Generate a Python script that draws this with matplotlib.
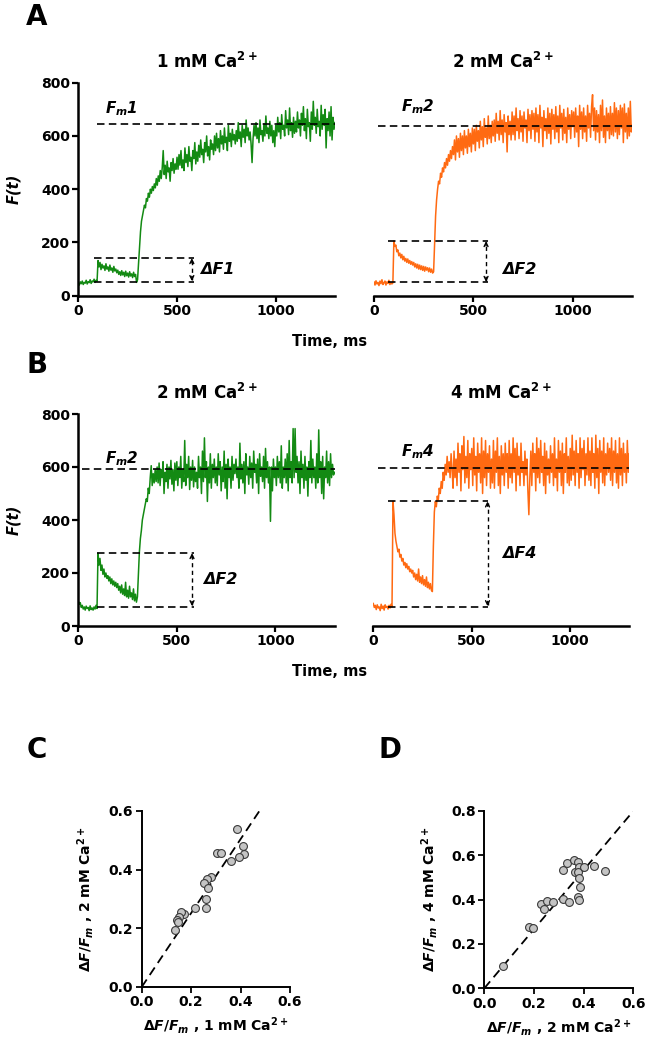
import numpy as np
import matplotlib
matplotlib.use('Agg')
import matplotlib.pyplot as plt

plt.rcParams['font.family'] = ['DejaVu Sans']
plt.rcParams['font.weight'] = 'bold'
plt.rcParams['mathtext.fontset'] = 'custom'
plt.rcParams['mathtext.rm'] = 'DejaVu Sans:bold'
plt.rcParams['mathtext.bf'] = 'DejaVu Sans:bold'
plt.rcParams['mathtext.it'] = 'DejaVu Sans:bold:italic'
plt.rcParams['mathtext.default'] = 'it'

# ---------------- data ----------------
time_step_ms = 5
trace_A1 = [48, 40, 52, 45, 55, 42, 50, 47, 58, 44, 53, 49, 60, 46, 55, 52, 62, 50, 58, 54,
            132, 108, 125, 98, 118, 104, 112, 95, 120, 100, 108, 92, 115, 96, 104, 88, 110, 93, 100, 86,
            96, 80, 90, 76, 94, 78, 88, 72, 92, 75, 85, 70, 90, 74, 82, 68, 88, 72, 80, 50,
            60, 120, 180, 240, 280, 300, 320, 340, 330, 365, 355, 385, 370, 400, 385, 410, 395, 420, 405, 440,
            415, 450, 430, 470, 440, 480, 545, 455, 490, 440, 505, 465, 480, 430, 500, 470, 515, 460, 495, 475,
            520, 475, 530, 490, 545, 480, 510, 470, 555, 500, 530, 485, 560, 505, 520, 470, 545, 515, 575, 495,
            540, 505, 565, 520, 585, 530, 550, 500, 575, 540, 600, 525, 560, 510, 585, 550, 570, 530, 600, 545,
            610, 555, 590, 540, 620, 570, 600, 550, 630, 575, 595, 545, 640, 580, 610, 560, 625, 585, 605, 570,
            620, 580, 650, 590, 615, 560, 640, 595, 625, 575, 660, 600, 630, 585, 615, 570, 500, 590, 640, 600,
            650, 590, 630, 575, 660, 605, 620, 580, 645, 600, 675, 610, 630, 590, 655, 600, 640, 575, 620, 560,
            640, 600, 670, 615, 650, 590, 680, 625, 640, 600, 695, 630, 660, 605, 705, 620, 650, 595, 670, 610,
            655, 615, 690, 630, 660, 600, 685, 640, 710, 620, 665, 590, 700, 635, 650, 580, 690, 625, 730, 640,
            670, 610, 700, 635, 655, 600, 715, 625, 680, 640, 700, 555, 665, 620, 690, 600, 710, 585, 670, 625,
            650]
trace_A2 = [52, 40, 56, 44, 50, 38, 55, 45, 60, 42, 48, 55, 40, 52, 46, 58, 42, 50, 44, 48,
            205, 185, 190, 165, 172, 150, 160, 142, 155, 135, 148, 130, 140, 125, 138, 122, 132, 118, 128, 115,
            125, 108, 120, 104, 118, 100, 115, 98, 112, 95, 110, 92, 108, 96, 105, 90, 104, 88, 100, 85,
            90, 200, 300, 360, 400, 430, 420, 460, 445, 480, 465, 500, 480, 515, 490, 530, 505, 545, 515, 560,
            530, 585, 510, 600, 540, 590, 520, 610, 545, 600, 530, 620, 555, 600, 535, 625, 560, 610, 540, 630,
            570, 625, 545, 640, 580, 620, 555, 655, 585, 635, 560, 665, 595, 630, 570, 675, 590, 640, 575, 655,
            600, 660, 580, 685, 610, 655, 585, 695, 605, 660, 575, 680, 615, 650, 540, 675, 605, 655, 585, 690,
            605, 675, 585, 705, 620, 665, 590, 695, 615, 675, 580, 690, 630, 660, 575, 700, 620, 680, 590, 695,
            625, 685, 580, 705, 615, 680, 575, 715, 630, 670, 560, 695, 620, 665, 590, 705, 610, 685, 570, 700,
            625, 680, 590, 710, 615, 675, 575, 715, 630, 685, 585, 700, 610, 670, 575, 705, 625, 680, 590, 695,
            635, 690, 595, 705, 615, 675, 560, 715, 625, 690, 590, 705, 615, 675, 580, 715, 630, 685, 595, 710,
            755, 620, 705, 585, 695, 615, 680, 575, 715, 620, 735, 595, 675, 575, 705, 620, 685, 590, 710, 605,
            685, 600, 725, 615, 705, 590, 695, 605, 715, 630, 705, 575, 720, 615, 685, 590, 705, 600, 730, 615,
            640]
trace_B1 = [95, 82, 88, 70, 78, 64, 72, 60, 75, 66, 70, 58, 76, 62, 68, 60, 72, 64, 78, 66,
            275, 230, 255, 210, 230, 195, 215, 185, 200, 180, 190, 170, 185, 160, 178, 155, 170, 150, 165, 145,
            160, 135, 150, 125, 155, 120, 140, 115, 165, 110, 135, 105, 150, 110, 125, 100, 140, 95, 120, 90,
            110, 200, 280, 330, 360, 400, 420, 440, 460, 480, 470, 520, 500, 560, 605, 530, 575, 540, 590, 545,
            600, 540, 615, 530, 590, 560, 620, 500, 580, 545, 610, 520, 600, 555, 625, 535, 590, 510, 615, 550,
            620, 530, 600, 560, 640, 520, 590, 545, 700, 530, 610, 560, 640, 515, 600, 550, 625, 525, 600, 545,
            580, 520, 640, 560, 600, 500, 660, 545, 710, 560, 620, 470, 600, 540, 650, 520, 610, 560, 630, 540,
            600, 530, 650, 570, 620, 510, 600, 545, 660, 520, 610, 480, 630, 560, 600, 520, 640, 550, 610, 575,
            630, 560, 600, 520, 690, 555, 610, 540, 620, 500, 650, 570, 600, 535, 640, 560, 615, 520, 660, 580,
            610, 540, 630, 500, 650, 565, 600, 545, 640, 520, 670, 560, 620, 540, 600, 395, 600, 510, 630, 560,
            600, 530, 640, 560, 620, 540, 680, 520, 600, 560, 630, 540, 650, 510, 700, 560, 620, 540, 745, 560,
            745, 580, 640, 540, 620, 500, 660, 560, 610, 520, 640, 550, 600, 490, 620, 560, 700, 540, 630, 560,
            600, 520, 650, 540, 740, 560, 620, 500, 640, 480, 600, 560, 660, 540, 620, 530, 650, 560, 610, 570,
            580]
trace_B2 = [85, 70, 78, 62, 80, 68, 72, 58, 82, 66, 75, 60, 80, 70, 74, 64, 78, 68, 82, 72,
            470, 420, 350, 320, 300, 280, 290, 260, 270, 245, 255, 230, 240, 220, 235, 215, 225, 205, 215, 200,
            210, 185, 200, 175, 195, 170, 215, 165, 185, 160, 190, 155, 175, 150, 185, 145, 165, 140, 160, 135,
            130, 300, 430, 470, 450, 490, 475, 520, 500, 545, 520, 580, 550, 610, 570, 640, 580, 620, 560, 650,
            590, 520, 660, 560, 630, 530, 690, 580, 650, 510, 680, 590, 715, 540, 640, 560, 700, 520, 650, 590,
            670, 530, 710, 570, 640, 510, 690, 580, 650, 540, 710, 500, 660, 560, 700, 530, 650, 580, 680, 520,
            630, 540, 700, 520, 660, 580, 710, 530, 640, 500, 680, 570, 650, 530, 690, 580, 650, 520, 700, 560,
            650, 540, 710, 580, 670, 510, 690, 570, 640, 530, 690, 580, 620, 530, 660, 570, 630, 510, 420, 560,
            660, 530, 690, 580, 650, 510, 710, 560, 670, 540, 700, 580, 640, 530, 690, 500, 660, 570, 630, 540,
            680, 580, 650, 530, 710, 560, 630, 510, 700, 580, 660, 530, 690, 500, 650, 580, 710, 540, 640, 530,
            670, 550, 720, 570, 660, 530, 700, 580, 650, 520, 710, 560, 670, 590, 700, 530, 650, 570, 710, 550,
            660, 530, 710, 580, 650, 520, 720, 560, 670, 500, 700, 580, 660, 540, 710, 530, 650, 570, 690, 580,
            670, 550, 710, 530, 660, 580, 700, 540, 650, 520, 710, 570, 670, 530, 690, 580, 650, 540, 700, 580,
            650]

Fm_values = [644, 638, 592, 595]
dF_low = [53, 50, 73, 73]
dF_high = [143, 207, 277, 472]
Fm_labels = [r'$F_m$1', r'$F_m$2', r'$F_m$2', r'$F_m$4']
dF_labels = ['ΔF1', 'ΔF2', 'ΔF2', 'ΔF4']
titles = [r'1 mM $\mathrm{Ca^{2+}}$', r'2 mM $\mathrm{Ca^{2+}}$',
          r'2 mM $\mathrm{Ca^{2+}}$', r'4 mM $\mathrm{Ca^{2+}}$']

C_x = [0.387, 0.409, 0.414, 0.392, 0.361, 0.303, 0.321, 0.279, 0.264, 0.252,
       0.267, 0.259, 0.260, 0.216, 0.172, 0.158, 0.151, 0.142, 0.134, 0.148]
C_y = [0.538, 0.482, 0.453, 0.444, 0.430, 0.458, 0.458, 0.374, 0.369, 0.355,
       0.337, 0.301, 0.268, 0.271, 0.248, 0.254, 0.239, 0.228, 0.194, 0.222]
D_x = [0.077, 0.181, 0.195, 0.228, 0.242, 0.251, 0.278, 0.316, 0.340, 0.316, 0.334, 0.361,
       0.365, 0.376, 0.381, 0.379, 0.381, 0.385, 0.376, 0.381, 0.403, 0.443, 0.486]
D_y = [0.102, 0.278, 0.273, 0.379, 0.356, 0.395, 0.391, 0.404, 0.389, 0.534, 0.567, 0.579,
       0.523, 0.569, 0.549, 0.526, 0.496, 0.456, 0.413, 0.398, 0.549, 0.553, 0.529]
C_slope = 1.26
D_slope = 1.333

GREEN = '#138a13'
ORANGE = '#ff6a12'

# ---------------- layout ----------------
W, H = 654, 1044
fig = plt.figure(figsize=(W / 100, H / 100), dpi=100)


def px_axes(l, t, r, b):
    return fig.add_axes([l / W, 1 - b / H, (r - l) / W, (b - t) / H])


def ftext(x, y, s, **kw):
    return fig.text(x / W, 1 - y / H, s, **kw)


trace_boxes = [(78.3, 82.7, 335.0, 295.7), (374.0, 82.7, 632.3, 295.7),
               (78.3, 414.0, 334.5, 626.0), (373.3, 414.0, 629.3, 626.0)]
traces = [trace_A1, trace_A2, trace_B1, trace_B2]
colors = [GREEN, ORANGE, GREEN, ORANGE]
Fm_start = [93, 22, 17, 25]
box_x0 = [80, 72, 93, 76]
box_x1 = [586, 572, 585, 580]
arrow_x = [575, 564, 577, 580]
Fm_lab_pos = [(220, 702), (223, 711), (219, 633), (228, 658)]
dF_lab_pos = [(705, 100), (730, 99), (720, 174), (740, 272)]

dash = (0, (4.5, 2.6))
for i in range(4):
    l, t, r, b = trace_boxes[i]
    ax = px_axes(l, t, r, b)
    y = np.array(traces[i], dtype=float)
    tt = np.arange(len(y)) * time_step_ms
    ax.plot(tt, y, color=colors[i], lw=1.1)
    ax.set_xlim(0, 1300)
    ax.set_ylim(0, 800)
    ax.spines['top'].set_visible(False)
    ax.spines['right'].set_visible(False)
    ax.spines['bottom'].set_linewidth(1.8)
    ax.spines['left'].set_linewidth(1.8)
    ax.set_xticks([0, 500, 1000])
    ax.tick_params(axis='both', direction='out', length=4, width=1.6,
                   labelsize=10, pad=2)
    if i % 2 == 0:
        ax.set_yticks([0, 200, 400, 600, 800])
    else:
        ax.spines['left'].set_visible(False)
        ax.set_yticks([])
    for lab in ax.get_xticklabels() + ax.get_yticklabels():
        lab.set_fontweight('bold')
    ax.plot([Fm_start[i], 1300], [Fm_values[i]] * 2, color='k', lw=1.2, linestyle=dash)
    ax.plot([box_x0[i], box_x1[i]], [dF_high[i]] * 2, color='k', lw=1.2, linestyle=dash)
    ax.plot([box_x0[i], box_x1[i]], [dF_low[i]] * 2, color='k', lw=1.2, linestyle=dash)
    ax.plot([arrow_x[i]] * 2, [dF_low[i] + 6, dF_high[i] - 6], color='k', lw=1.0,
            linestyle=(0, (3, 2.5)))
    ax.annotate('', xy=(arrow_x[i], dF_high[i] - 2), xytext=(arrow_x[i], dF_high[i] - 20),
                arrowprops=dict(arrowstyle='->', lw=1.0, color='k', mutation_scale=7,
                                shrinkA=0, shrinkB=0, linestyle='-'))
    ax.annotate('', xy=(arrow_x[i], dF_low[i] + 2), xytext=(arrow_x[i], dF_low[i] + 20),
                arrowprops=dict(arrowstyle='->', lw=1.0, color='k', mutation_scale=7,
                                shrinkA=0, shrinkB=0, linestyle='-'))
    ax.text(Fm_lab_pos[i][0], Fm_lab_pos[i][1], Fm_labels[i], fontsize=11,
            style='italic', fontweight='bold', ha='center', va='center')
    ax.text(dF_lab_pos[i][0], dF_lab_pos[i][1], dF_labels[i], fontsize=11.5,
            style='italic', fontweight='bold', ha='center', va='center')
    ftext((l + r) / 2, 62 if i < 2 else 393, titles[i], fontsize=12,
          fontweight='bold', ha='center', va='center')

for yc in (189, 520):
    ftext(14, yc, 'F(t)', fontsize=10.5, style='italic', fontweight='bold',
          rotation=90, ha='center', va='center')
for yc in (342, 672):
    ftext(330, yc, 'Time, ms', fontsize=10.5, fontweight='bold', ha='center', va='center')

for (x, y, s) in [(37, 17, 'A'), (37, 365, 'B'), (37, 750, 'C'), (390, 750, 'D')]:
    ftext(x, y, s, fontsize=20, fontweight='bold', ha='center', va='center')

# ---------------- scatter panels ----------------
scatter_boxes = [(141.7, 811.0, 290.0, 987.0), (484.3, 811.0, 633.3, 988.3)]
sx = [C_x, D_x]
sy = [C_y, D_y]
slopes = [C_slope, D_slope]
ymax = [0.6, 0.8]
xl = [r'$\Delta F/F_m$ , 1 mM $\mathrm{Ca^{2+}}$', r'$\Delta F/F_m$ , 2 mM $\mathrm{Ca^{2+}}$']
yl = [r'$\Delta F/F_m$ , 2 mM $\mathrm{Ca^{2+}}$', r'$\Delta F/F_m$ , 4 mM $\mathrm{Ca^{2+}}$']
xlab_y = [1025, 1028]
ylab_x = [86, 430]
for i in range(2):
    l, t, r, b = scatter_boxes[i]
    ax = px_axes(l, t, r, b)
    ax.set_xlim(0, 0.6)
    ax.set_ylim(0, ymax[i])
    xe = ymax[i] / slopes[i]
    ax.plot([0, xe], [0, slopes[i] * xe], color='k', lw=1.3, linestyle=(0, (5, 3)), zorder=1)
    ax.scatter(sx[i], sy[i], s=32, facecolor='#c4c4c4', edgecolor='#3a3a3a',
               linewidths=0.8, zorder=3, clip_on=False)
    ax.spines['top'].set_visible(False)
    ax.spines['right'].set_visible(False)
    ax.spines['bottom'].set_linewidth(1.4)
    ax.spines['left'].set_linewidth(1.4)
    ax.set_xticks([0, 0.2, 0.4, 0.6])
    ax.set_xticklabels(['0.0', '0.2', '0.4', '0.6'])
    yt = [0, 0.2, 0.4, 0.6] if i == 0 else [0, 0.2, 0.4, 0.6, 0.8]
    ax.set_yticks(yt)
    ax.set_yticklabels(['%.1f' % v for v in yt])
    ax.tick_params(axis='both', direction='out', length=4, width=1.3, labelsize=10, pad=2)
    for lab in ax.get_xticklabels() + ax.get_yticklabels():
        lab.set_fontweight('bold')
    ftext((l + r) / 2, xlab_y[i], xl[i], fontsize=10, fontweight='bold', ha='center', va='center')
    ftext(ylab_x[i], (t + b) / 2, yl[i], fontsize=10, fontweight='bold', rotation=90,
          ha='center', va='center')

fig.savefig('out.png', dpi=100)
